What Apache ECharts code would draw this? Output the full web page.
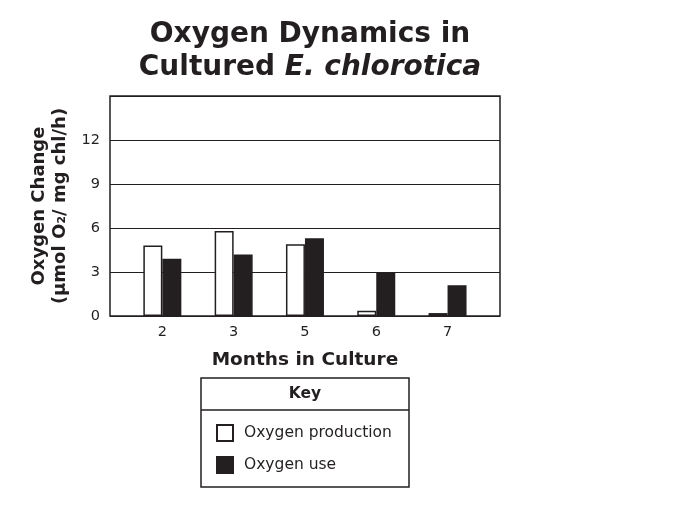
<!DOCTYPE html>
<html>
<head>
<meta charset="utf-8">
<script src="https://cdn.jsdelivr.net/npm/echarts@6/dist/echarts.min.js"></script>
<style>
  html, body { margin: 0; padding: 0; background: #fff; }
  #chart { width: 679px; height: 521px; }
</style>
</head>
<body>
<div id="chart"></div>
<script>
const months = ["2", "3", "5", "6", "7"];
const oxygenProduction = [4.8, 5.8, 4.9, 0.35, 0.2];
const oxygenUse = [3.9, 4.2, 5.3, 3.0, 2.1];
const yTicks = [0, 3, 6, 9, 12];

const ink = "#231f20";
const font = "DejaVu Sans";

let chartDom = document.getElementById("chart");
let myChart = echarts.init(chartDom);

let option = {
  animation: false,
  textStyle: { fontFamily: font, color: ink },
  title: {
    text: "Oxygen Dynamics in\nCultured {i|E. chlorotica}",
    left: 305,
    top: 13,
    textAlign: "center",
    textStyle: {
      fontFamily: font,
      fontSize: 28,
      fontWeight: "bold",
      color: ink,
      lineHeight: 33,
      rich: {
        i: { fontFamily: font, fontSize: 28, fontWeight: "bold", fontStyle: "italic", color: ink, lineHeight: 33 },
      },
    },
  },
  grid: [
    // bars
    { left: 126.7, top: 96, width: 356.5, height: 220 },
    // frame + gridlines
    { left: 110, top: 96, width: 390, height: 220, show: true, borderColor: ink, borderWidth: 1.5, backgroundColor: "transparent" },
  ],
  xAxis: [
    {
      type: "category",
      data: months,
      gridIndex: 0,
      axisLine: { show: false },
      axisTick: { show: false },
      axisLabel: { color: ink, fontSize: 14.5, margin: 9, fontFamily: font },
      name: "Months in Culture",
      nameLocation: "middle",
      nameGap: 35,
      nameTextStyle: { fontFamily: font, fontSize: 18.5, fontWeight: "bold", color: ink },
    },
    { type: "value", gridIndex: 1, show: false, min: 0, max: 1 },
  ],
  yAxis: [
    { type: "value", gridIndex: 0, show: false, min: 0, max: 15, interval: 3 },
    {
      type: "value",
      gridIndex: 1,
      min: 0,
      max: 15,
      interval: 3,
      axisLine: { show: false },
      axisTick: { show: false },
      axisLabel: {
        color: ink,
        fontSize: 14.5,
        margin: 10,
        fontFamily: font,
        formatter: (v) => (yTicks.includes(v) ? String(v) : ""),
      },
      splitLine: { lineStyle: { color: ink, width: 1 } },
      name: "Oxygen Change\n(μmol O₂/ mg chl/h)",
      nameLocation: "middle",
      nameGap: 35,
      nameTextStyle: { fontFamily: font, fontSize: 18, fontWeight: "bold", color: ink, lineHeight: 21 },
    },
  ],
  legend: {
    orient: "vertical",
    left: 211,
    top: 419,
    itemWidth: 16,
    itemHeight: 16,
    itemGap: 14,
    icon: "rect",
    textStyle: { fontFamily: font, fontSize: 15.5, color: ink, padding: [0, 0, 0, 6] },
    data: ["Oxygen production", "Oxygen use"],
  },
  graphic: [
    {
      type: "rect",
      shape: { x: 201, y: 378, width: 208, height: 109 },
      style: { fill: "none", stroke: ink, lineWidth: 1.5 },
    },
    {
      type: "line",
      shape: { x1: 201, y1: 410, x2: 409, y2: 410 },
      style: { stroke: ink, lineWidth: 1.5 },
    },
    {
      type: "text",
      x: 305,
      y: 394,
      style: { text: "Key", fontFamily: font, fontSize: 15.5, fontWeight: "bold", fill: ink, align: "center", verticalAlign: "middle" },
    },
  ],
  series: [
    {
      name: "Oxygen production",
      type: "bar",
      data: oxygenProduction,
      barWidth: 19,
      barGap: "0%",
      itemStyle: { color: "#fff", borderColor: ink, borderWidth: 1.5 },
    },
    {
      name: "Oxygen use",
      type: "bar",
      data: oxygenUse,
      barWidth: 19,
      barGap: "0%",
      itemStyle: { color: ink, borderColor: ink, borderWidth: 1.5 },
    },
  ],
};
option && myChart.setOption(option);
</script>
</body>
</html>
